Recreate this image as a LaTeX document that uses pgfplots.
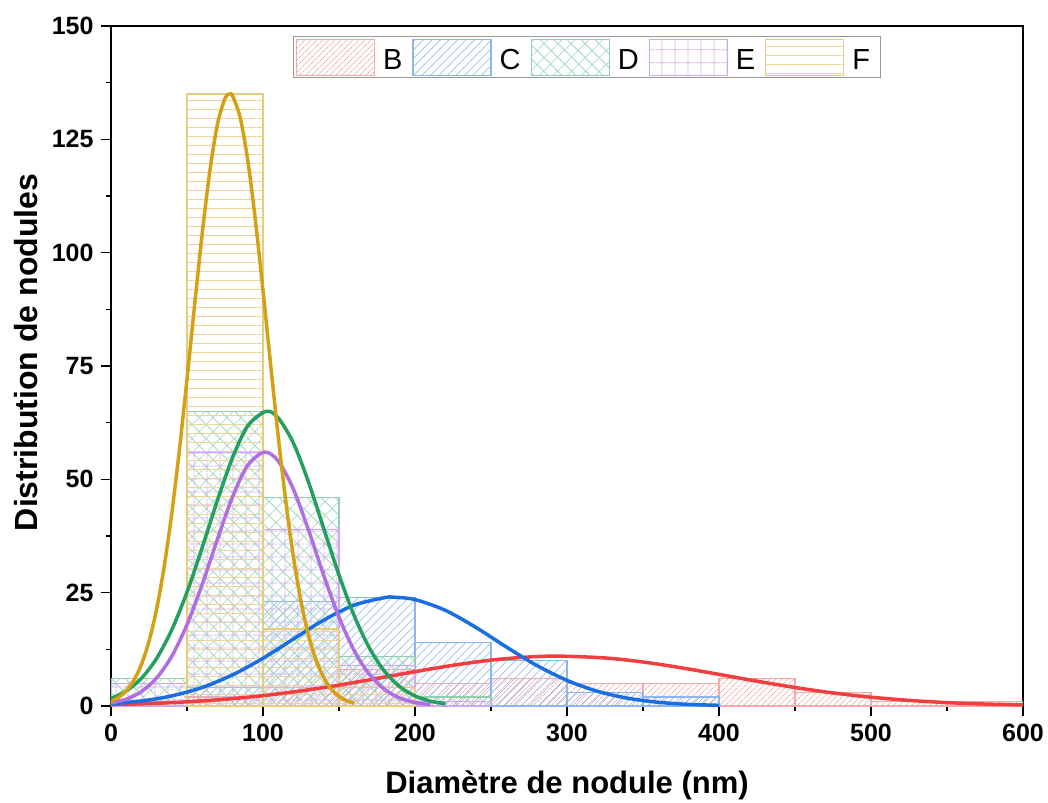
\documentclass[border=0pt]{standalone}
\usepackage{fontspec}
\setmainfont{Liberation Sans}
\usepackage{pgfplots}
\pgfplotsset{compat=1.18}
\usetikzlibrary{patterns.meta}
\definecolor{cB}{RGB}{242,62,62}
\definecolor{cC}{RGB}{25,110,225}
\definecolor{cD}{RGB}{35,160,95}
\definecolor{cE}{RGB}{175,110,225}
\definecolor{cF}{RGB}{212,160,20}
\pgfplotsset{
  patchleg/.style={legend image code/.code={\draw[##1] (0pt,-15pt) rectangle (78pt,21pt);}},
}
\begin{document}
\begin{tikzpicture}
\begin{axis}[
  width=912pt, height=680pt, scale only axis,
  xmin=0, xmax=600, ymin=0, ymax=150,
  xtick={0,100,...,600}, ytick={0,25,...,150},
  minor x tick num=1, minor y tick num=1,
  tick align=outside, tick pos=left,
  major tick length=10pt, minor tick length=5pt,
  every tick/.style={black, line width=1.6pt},
  axis line style={line width=1.9pt},
  tick label style={font=\fontsize{25}{30}\selectfont\bfseries},
  yticklabel style={xshift=-4pt},
  xticklabel style={yshift=-5pt},
  /pgf/number format/assume math mode=true,
  xlabel={Diamètre de nodule (nm)},
  ylabel={Distribution de nodules},
  xlabel style={font=\fontsize{31}{36}\selectfont\bfseries, at={(axis description cs:0.5,-0.128)}, anchor=base},
  ylabel style={font=\fontsize{32}{36}\selectfont\bfseries, at={(axis description cs:-0.081,0.52)}, anchor=base},
  legend columns=5,
  legend style={at={(0.522,0.985)}, anchor=north, draw=gray!80, line width=1pt,
    font=\fontsize{29}{34}\selectfont, inner xsep=2pt, inner ysep=2pt, nodes={inner xsep=8pt, inner ysep=3pt},
    /tikz/every even column/.append style={column sep=2pt}},
  clip=true,
]
% histograms
\addplot[ybar interval, draw=cB!45, line width=1.2pt, pattern={Lines[angle=45,distance=4pt,line width=0.7pt]}, pattern color=cB!45, patchleg]
 coordinates {(0,1)(50,2)(100,4)(150,8)(200,5)(250,6)(300,5)(350,5)(400,6)(450,3)(500,1)(550,1)(600,1)};
\addlegendentry{B}
\addplot[ybar interval, draw=cC!50, line width=1.2pt, pattern={Lines[angle=45,distance=6pt,line width=0.7pt]}, pattern color=cC!45, patchleg]
 coordinates {(0,1)(50,4)(100,23)(150,24)(200,14)(250,10)(300,3)(350,2)(400,2)};
\addlegendentry{C}
\addplot[ybar interval, draw=cD!50, line width=1.2pt, pattern={Hatch[angle=45,distance=10.5pt,line width=0.7pt]}, pattern color=cD!45, patchleg]
 coordinates {(0,6)(50,65)(100,46)(150,11)(200,2)(250,2)};
\addlegendentry{D}
\addplot[ybar interval, draw=cE!60, line width=1.2pt, pattern={Hatch[angle=0,distance=13pt,line width=0.8pt]}, pattern color=cE!55, patchleg]
 coordinates {(0,5)(50,56)(100,39)(150,9)(200,1)(250,1)};
\addlegendentry{E}
\addplot[ybar interval, draw=cF!55, line width=1.2pt, pattern={Lines[angle=0,distance=9pt,line width=0.7pt]}, pattern color=cF!45, patchleg]
 coordinates {(50,135)(100,17)(150,4)(200,4)};
\addlegendentry{F}
% fitted curves
\addplot[cB, line width=3.5pt, smooth, forget plot] coordinates {
(0,0.30)(25,0.54)(50,0.92)(75,1.49)(100,2.29)(125,3.33)(150,4.61)(175,6.07)(200,7.58)(225,8.98)(250,10.12)(275,10.82)(295,11.00)(325,10.60)(350,9.71)(375,8.44)(400,6.98)(425,5.47)(450,4.08)(475,2.88)(500,1.94)(525,1.24)(550,0.75)(575,0.43)(600,0.24)};
\addplot[cC, line width=3.5pt, smooth, forget plot] coordinates {
(0,0.51)(20,1.11)(40,2.23)(60,4.09)(80,6.87)(100,10.53)(120,14.77)(140,18.96)(160,22.26)(180,23.90)(186,24.00)(200,23.48)(220,21.10)(240,17.35)(260,13.04)(280,8.97)(300,5.65)(320,3.25)(340,1.71)(360,0.82)(380,0.36)(400,0.15)};
\addplot[cD, line width=3.5pt, smooth, forget plot] coordinates {
(0,1.67)(10,3.31)(20,6.10)(30,10.49)(40,16.82)(50,25.10)(60,34.94)(70,45.34)(80,54.82)(90,61.79)(102,65.00)(110,63.55)(120,58.00)(130,49.34)(140,39.11)(150,28.90)(160,19.91)(170,12.78)(180,7.65)(190,4.26)(200,2.22)(210,1.07)(220,0.48)};
\addplot[cE, line width=3.5pt, smooth, forget plot] coordinates {
(0,0.65)(10,1.49)(20,3.17)(30,6.17)(40,10.99)(50,17.94)(60,26.84)(70,36.78)(80,46.17)(90,53.11)(101,56.00)(110,54.05)(120,47.82)(130,38.75)(140,28.78)(150,19.58)(160,12.21)(170,6.97)(180,3.65)(190,1.75)(200,0.77)(210,0.31)};
\addplot[cF, line width=3.5pt, smooth, forget plot] coordinates {
(0,1.04)(5,1.90)(10,3.34)(15,5.64)(20,9.15)(25,14.27)(30,21.37)(35,30.75)(40,42.52)(45,56.49)(50,72.10)(55,88.42)(60,104.18)(65,117.92)(70,128.26)(75,134.03)(78,135.00)(80,134.57)(85,129.82)(90,120.31)(95,107.14)(100,91.66)(105,75.34)(110,59.51)(115,45.16)(120,32.93)(125,23.06)(130,15.52)(135,10.03)(140,6.23)(145,3.72)(150,2.13)(155,1.18)(160,0.62)};
\end{axis}
\path ([shift={(-111pt,-95pt)}]current axis.south west) rectangle ([shift={(25pt,26pt)}]current axis.north east);
\end{tikzpicture}
\end{document}
